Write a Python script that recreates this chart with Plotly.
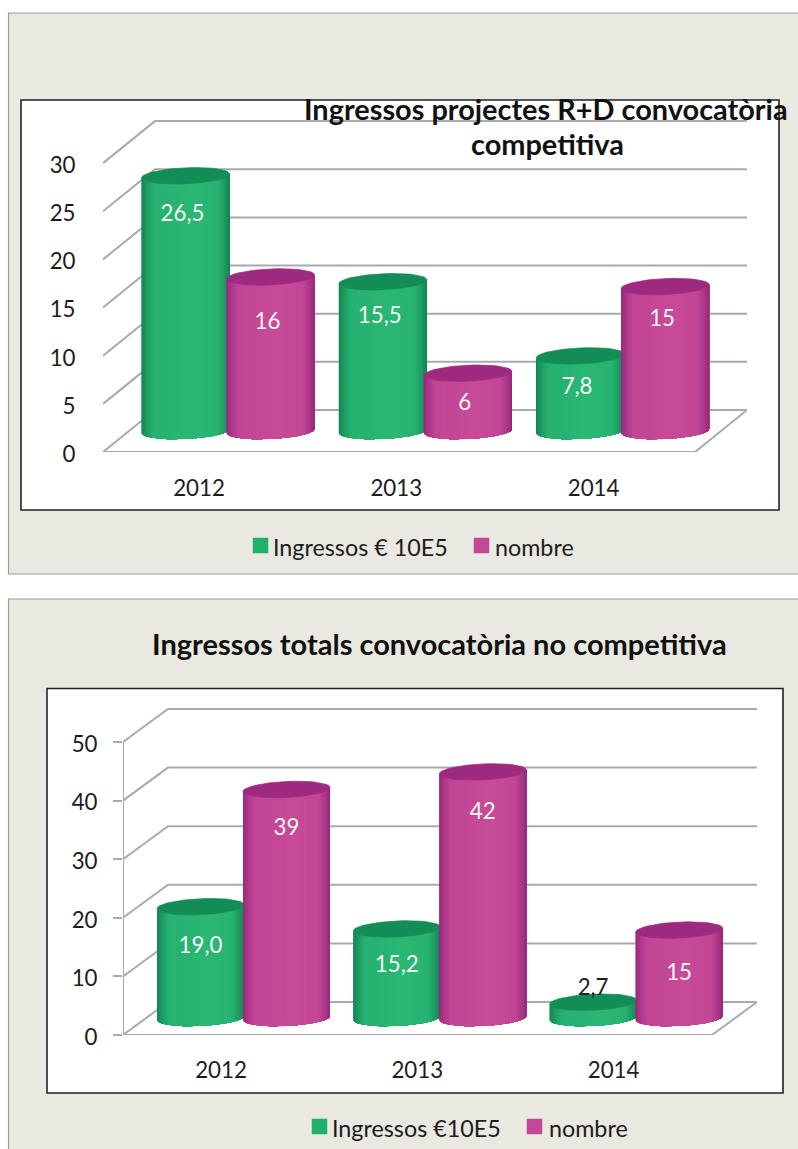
import math
import plotly.graph_objects as go

# ---- data ----
years = ["2012", "2013", "2014"]
series_names_top = ["Ingressos € 10E5", "nombre"]
ingressos_top = [26.5, 15.5, 7.8]
nombre_top = [16, 6, 15]
labels_ingressos_top = ["26,5", "15,5", "7,8"]
labels_nombre_top = ["16", "6", "15"]
ticks_top = [0, 5, 10, 15, 20, 25, 30]

series_names_bottom = ["Ingressos €10E5", "nombre"]
ingressos_bottom = [19.0, 15.2, 2.7]
nombre_bottom = [39, 42, 15]
labels_ingressos_bottom = ["19,0", "15,2", "2,7"]
labels_nombre_bottom = ["39", "42", "15"]
ticks_bottom = [0, 10, 20, 30, 40, 50]

title_top_1 = "Ingressos projectes R+D convocatòria"
title_top_2 = "competitiva"
title_bottom = "Ingressos totals convocatòria no competitiva"

# ---- style ----
W, H = 798, 1149
FONT = "Lato"
PANEL = "#E9E9E1"
GRID = "#A9AAAE"
GREEN = dict(edge=(17, 130, 82), mid=(42, 183, 116), top="#128D56")
PINK = dict(edge=(150, 38, 124), mid=(199, 74, 152), top="#9E2A80")
TEXT = "#1c1c1c"


def px(x):
    return x / W


def py(y):
    return 1 - y / H


fig = go.Figure()
shapes = []
annots = []


def rect(x0, y0, x1, y1, fill, line, lw):
    shapes.append(dict(type="rect", xref="paper", yref="paper", layer="below",
                       x0=px(x0), x1=px(x1), y0=py(y0), y1=py(y1),
                       fillcolor=fill, line=dict(color=line, width=lw)))


def text(x, y, s, size, color=TEXT, bold=False, xanchor="left"):
    annots.append(dict(xref="paper", yref="paper", x=px(x), y=py(y), text=f"<b>{s}</b>" if bold else s,
                       showarrow=False, xanchor=xanchor, yanchor="middle",
                       font=dict(family=FONT, size=size, color=color)))


def shade(c, t):
    # t in 0..1 across the cylinder; dark rim, bright plateau slightly right of centre
    d = min(t, 1 - t)
    k = min(1.0, (d / 0.14)) ** 0.75
    k *= 0.90 + 0.10 * math.exp(-((t - 0.58) / 0.2) ** 2)
    return "rgb(%d,%d,%d)" % tuple(round(c["edge"][i] + (c["mid"][i] - c["edge"][i]) * k) for i in range(3))


def chart(n, geo, ingressos, nombre, lab_i, lab_n, ticks, drops, axis_visible):
    xa, ya = ("x", "y") if n == 1 else ("x2", "y2")
    ux, uy = geo["ux"], geo["uy"]
    left, right = geo["left"], geo["right"]
    c0 = geo["c0"]
    def X(p): return (p - c0) / ux
    dx, dy = geo["dx"] / ux, geo["dy"] / uy
    x0, x1 = X(left), X(right)

    def line(xs, ys):
        fig.add_trace(go.Scatter(x=xs, y=ys, xaxis=xa, yaxis=ya, mode="lines", showlegend=False,
                                 hoverinfo="skip", cliponaxis=False,
                                 line=dict(color=GRID, width=2)))

    for v in ticks:
        line([x0, x0 + dx, x1 + dx], [v, v + dy, v + dy])
    line([x0, x1, x1 + dx], [0, 0, dy])
    if axis_visible:
        line([x0, x0], [0, ticks[-1]])
        for i in range(4):
            bx = x0 + i * (x1 - x0) / 3
            line([bx, bx], [0, -geo["xtick"] / uy])

    w = geo["w"] / ux
    b = 8 / uy
    tilt = 2 / uy
    base = geo["base"] / uy
    lx, ly, lt, lc = [], [], [], []
    N = 40
    for k, (vals, col, offs, labs) in enumerate(((ingressos, GREEN, geo["off"][0], lab_i),
                                                 (nombre, PINK, geo["off"][1], lab_n))):
        for i, v in enumerate(vals):
            cx = i + offs
            top = base + v
            for j in range(N):
                # painter's order: each band covers everything to its right, so no seams appear
                angles = [math.pi * m / N for m in range(j, N + 1)]
                ts = [-math.cos(a) for a in angles]
                ss = [math.sin(a) for a in angles]
                xs = [cx + t * w / 2 for t in ts]
                up = [top - b * s + t * tilt for t, s in zip(ts, ss)]
                dn = [base - b * s + t * tilt for t, s in zip(ts, ss)]
                tmid = (-math.cos(angles[0]) - math.cos(angles[1])) / 2
                color = shade(col, (tmid + 1) / 2)
                fig.add_trace(go.Scatter(x=xs + xs[::-1] + xs[:1], y=up + dn[::-1] + up[:1], xaxis=xa, yaxis=ya,
                                         mode="lines", fill="toself", fillcolor=color, showlegend=False,
                                         hoverinfo="skip", cliponaxis=False, line=dict(color=color, width=0)))
            th = [2 * math.pi * q / 60 for q in range(61)]
            fig.add_trace(go.Scatter(x=[cx - math.cos(q) * w / 2 for q in th],
                                     y=[top + b * math.sin(q) - math.cos(q) * tilt for q in th],
                                     xaxis=xa, yaxis=ya, mode="lines", fill="toself", fillcolor=col["top"],
                                     showlegend=False, hoverinfo="skip", cliponaxis=False,
                                     line=dict(color=col["top"], width=0.7)))
            lx.append(cx + geo["lab_dx"] / ux)
            ly.append(top - drops[k][i] / uy)
            lt.append(labs[i])
            lc.append("#1c1c1c" if drops[k][i] < 0 else "#F4F8F4")
    fig.add_trace(go.Scatter(x=lx, y=ly, xaxis=xa, yaxis=ya, mode="text", text=lt, showlegend=False,
                             hoverinfo="skip", cliponaxis=False, textposition="middle center",
                             textfont=dict(family=FONT, size=geo["fs"], color=lc)))
    return dict(
        x=dict(domain=[px(left), px(right + geo["dx"])], range=[x0, x1 + dx], tickvals=[0, 1, 2], ticktext=years,
               showgrid=False, zeroline=False, showline=False, ticks="outside", ticklen=geo["xlen"],
               tickcolor="rgba(0,0,0,0)", tickfont=dict(family=FONT, size=geo["fs"], color=TEXT),
               anchor=ya, fixedrange=True),
        y=dict(domain=[py(geo["y0"]), py(geo["ytop"])], range=[0, (geo["y0"] - geo["ytop"]) / uy], tickvals=ticks,
               ticktext=[str(t) for t in ticks], showgrid=False, zeroline=False, showline=False, ticks="outside",
               ticklen=geo["ylen"], ticklabelstandoff=geo["ystand"], ticklabelshift=2, tickwidth=2,
               tickcolor=GRID if axis_visible else "rgba(0,0,0,0)",
               tickfont=dict(family=FONT, size=geo["fs"], color=TEXT), anchor=xa, fixedrange=True),
    )


rect(8.5, 13, 802, 574, PANEL, "#9A9A9A", 1.2)
rect(8.5, 599, 802, 1153, PANEL, "#9A9A9A", 1.2)
rect(21, 100, 779, 510, "white", "#222222", 1.6)
rect(47, 688.5, 783, 1093, "white", "#222222", 1.6)

geo1 = dict(ux=197.3, uy=9.63, left=103, right=695, c0=199, dx=52, dy=42, w=88, base=21,
            off=(-13.5 / 197.3, 71.5 / 197.3), y0=452, ytop=102, fs=22.3, xlen=16, ylen=22, ystand=0, lab_dx=-3, xtick=0)
drops1 = ([40, 36, 33], [47, 31, 34])
a1 = chart(1, geo1, ingressos_top, nombre_top, labels_ingressos_top, labels_nombre_top, ticks_top, drops1, False)

geo2 = dict(ux=196.3, uy=5.86, left=123, right=712, c0=221, dx=45, dy=33, w=87, base=17,
            off=(-20.5 / 196.3, 65.5 / 196.3), y0=1035, ytop=690, fs=22.3, xlen=15, ylen=9, ystand=11, lab_dx=0, xtick=8)
drops2 = ([41, 38, -13], [40, 42, 44])
a2 = chart(2, geo2, ingressos_bottom, nombre_bottom, labels_ingressos_bottom, labels_nombre_bottom, ticks_bottom,
           drops2, True)

text(546, 109, title_top_1, 28.9, "#111111", True, "center")
text(547, 144, title_top_2, 28.9, "#111111", True, "center")
text(439, 643, title_bottom, 29, "#111111", True, "center")

for sq, tx, name, col, y in ((253, 271, series_names_top[0], "#22B06D", 546), (474, 493, series_names_top[1], "#C4489A", 546),
                             (312, 330, series_names_bottom[0], "#22B06D", 1127), (527, 547, series_names_bottom[1], "#C4489A", 1127)):
    rect(sq, y - 8, sq + 15, y + 7, col, col, 0.5)
    text(tx, y + 0.5, name, 23.3)

fig.update_layout(width=W, height=H, autosize=False, margin=dict(l=0, r=0, t=0, b=0, autoexpand=False),
                  paper_bgcolor="white", plot_bgcolor="rgba(0,0,0,0)", showlegend=False, shapes=shapes,
                  annotations=annots, xaxis=a1["x"], yaxis=a1["y"], xaxis2=a2["x"], yaxis2=a2["y"], hovermode=False)
fig.write_html("out.html", config=dict(displayModeBar=False),
               post_script="document.body.style.margin='0';document.body.style.overflow='hidden';")
